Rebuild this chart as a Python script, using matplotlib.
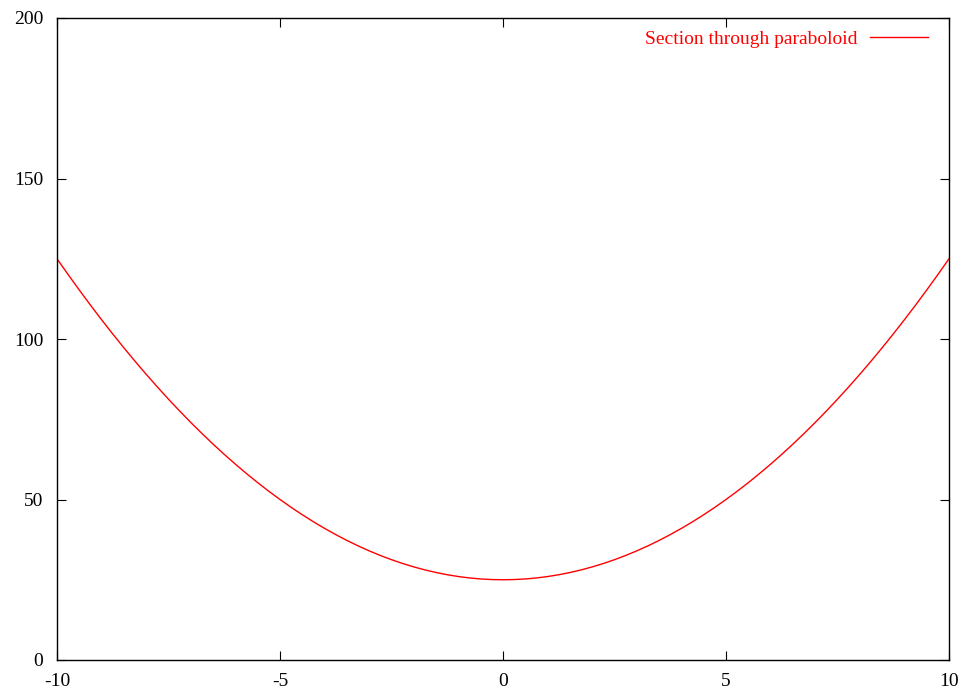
import matplotlib
matplotlib.use('Agg')
from matplotlib import pyplot as plt

# section values, every 0.25 along x (x >= 0, mirrored)
half_x = [0.0, 0.25, 0.5, 0.75, 1.0, 1.25, 1.5, 1.75, 2.0, 2.25, 2.5,
          2.75, 3.0, 3.25, 3.5, 3.75, 4.0, 4.25, 4.5, 4.75, 5.0,
          5.25, 5.5, 5.75, 6.0, 6.25, 6.5, 6.75, 7.0, 7.25, 7.5,
          7.75, 8.0, 8.25, 8.5, 8.75, 9.0, 9.25, 9.5, 9.75, 10.0]
half_y = [25.0, 25.06, 25.25, 25.56, 26.0, 26.56, 27.25, 28.06, 29.0, 30.06, 31.25,
          32.56, 34.0, 35.56, 37.25, 39.06, 41.0, 43.06, 45.25, 47.56, 50.0,
          52.56, 55.25, 58.06, 61.0, 64.06, 67.25, 70.56, 74.0, 77.56, 81.25,
          85.06, 89.0, 93.06, 97.25, 101.56, 106.0, 110.56, 115.25, 120.06, 125.0]
xs = [-v for v in half_x[:0:-1]] + half_x
ys = half_y[:0:-1] + half_y
label = 'Section through paraboloid'
xticks = [-10, -5, 0, 5, 10]
yticks = [0, 50, 100, 150, 200]

plt.rcParams['font.family'] = ['Liberation Serif', 'DejaVu Serif']
plt.rcParams['font.size'] = 14
plt.rcParams['axes.unicode_minus'] = False

fig = plt.figure(figsize=(9.64, 6.89), dpi=100)
ax = fig.add_axes([57 / 964, 1 - 660 / 689, 892 / 964, 642 / 689])

ax.plot(xs, ys, color='red', lw=1.0, label=label)
ax.set_xlim(-10, 10)
ax.set_ylim(0, 200)
ax.set_xticks(xticks)
ax.set_yticks(yticks)
ax.tick_params(direction='in', length=6.5, width=0.8, top=True, right=True)
ax.tick_params(axis='x', pad=9)
ax.tick_params(axis='y', pad=10)
for s in ax.spines.values():
    s.set_linewidth(1.0)

leg = ax.legend(loc='center right', bbox_to_anchor=(0.9765, 0.967), frameon=False,
                markerfirst=False, handlelength=3.0, handletextpad=0.62,
                labelcolor='red', fontsize=14, borderaxespad=0, borderpad=0)

fig.savefig('out.png', dpi=100)
